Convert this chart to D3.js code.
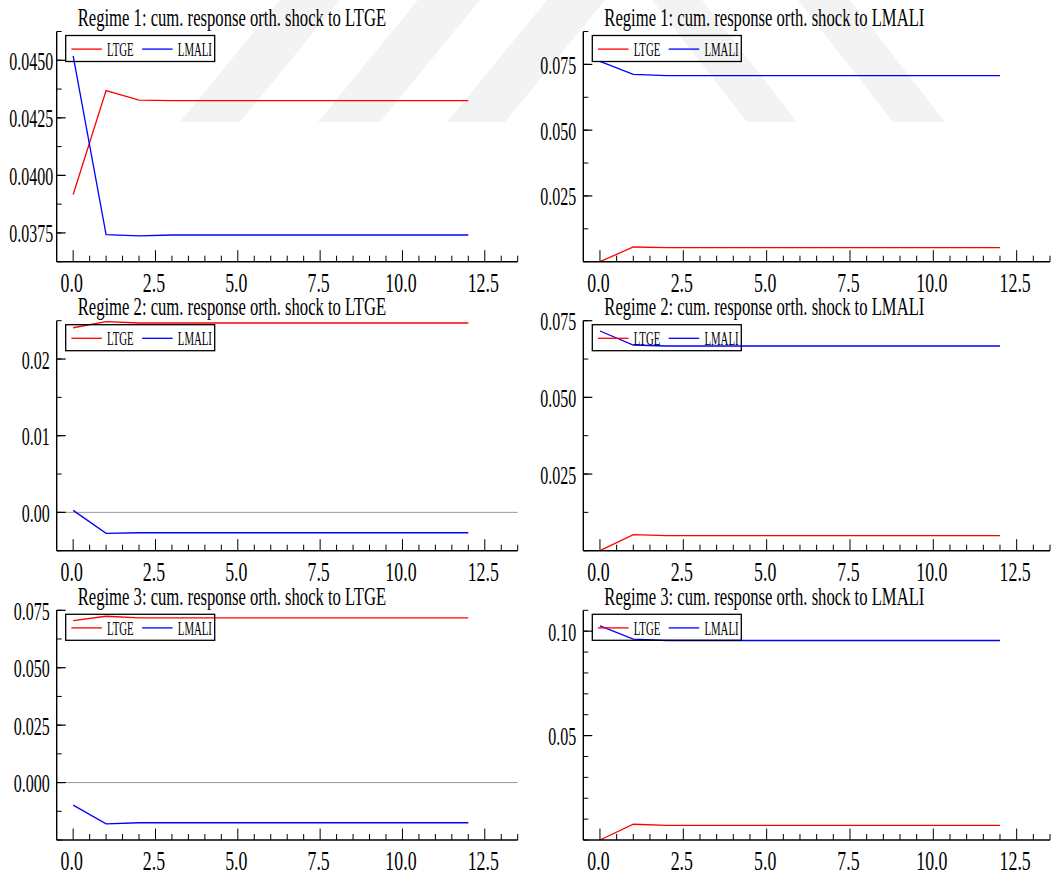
<!DOCTYPE html>
<html>
<head>
<meta charset="utf-8">
<script src="https://cdn.jsdelivr.net/npm/d3@7"></script>
<style>
body{margin:0;background:#fff;}
text{font-family:"Liberation Serif","Times New Roman",serif;fill:#000;}
</style>
</head>
<body>
<div id="graph"></div>
<script>
//data
var horizon = [0,1,2,3,4,5,6,7,8,9,10,11,12];
var seriesNames = ["LTGE","LMALI"];
var seriesColors = ["#ff0000","#0000ff"];

var titles = [
    "Regime 1: cum. response orth. shock to LTGE",
    "Regime 1: cum. response orth. shock to LMALI",
    "Regime 2: cum. response orth. shock to LTGE",
    "Regime 2: cum. response orth. shock to LMALI",
    "Regime 3: cum. response orth. shock to LTGE",
    "Regime 3: cum. response orth. shock to LMALI"
];

var r1_ltge_ltge  = [0.03917,0.04368,0.04327,0.04325,0.04325,0.04325,0.04325,0.04325,0.04325,0.04325,0.04325,0.04325,0.04325];
var r1_ltge_lmali = [0.04519,0.03743,0.03737,0.03741,0.03741,0.03741,0.03741,0.03741,0.03741,0.03741,0.03741,0.03741,0.03741];
var r1_lmali_ltge  = [0.0,0.00559,0.00532,0.00532,0.00532,0.00532,0.00532,0.00532,0.00532,0.00532,0.00532,0.00532,0.00532];
var r1_lmali_lmali = [0.07614,0.0712,0.0707,0.0707,0.0707,0.0707,0.0707,0.0707,0.0707,0.0707,0.0707,0.0707,0.0707];

var r2_ltge_ltge  = [0.02408,0.02487,0.0247,0.0247,0.0247,0.0247,0.0247,0.0247,0.0247,0.0247,0.0247,0.0247,0.0247];
var r2_ltge_lmali = [0.00026,-0.00274,-0.00266,-0.00266,-0.00266,-0.00266,-0.00266,-0.00266,-0.00266,-0.00266,-0.00266,-0.00266,-0.00266];
var r2_lmali_ltge  = [0.0,0.00522,0.00489,0.00489,0.00489,0.00489,0.00489,0.00489,0.00489,0.00489,0.00489,0.00489,0.00489];
var r2_lmali_lmali = [0.07164,0.06708,0.06675,0.06675,0.06675,0.06675,0.06675,0.06675,0.06675,0.06675,0.06675,0.06675,0.06675];

var r3_ltge_ltge  = [0.07052,0.0724,0.0717,0.0717,0.0717,0.0717,0.0717,0.0717,0.0717,0.0717,0.0717,0.0717,0.0717];
var r3_ltge_lmali = [-0.00983,-0.01795,-0.0175,-0.0175,-0.0175,-0.0175,-0.0175,-0.0175,-0.0175,-0.0175,-0.0175,-0.0175,-0.0175];
var r3_lmali_ltge  = [0.0,0.00753,0.00705,0.00705,0.00705,0.00705,0.00705,0.00705,0.00705,0.00705,0.00705,0.00705,0.00705];
var r3_lmali_lmali = [0.10254,0.09617,0.09554,0.09554,0.09554,0.09554,0.09554,0.09554,0.09554,0.09554,0.09554,0.09554,0.09554];

//axis extents and tick labels
var xDomain = [-0.5, 13.5];
var xTicks = [0, 2.5, 5, 7.5, 10, 12.5];
var yDomains = [[0.03625,0.04625],[0,0.0875],[-0.005,0.025],[0,0.075],[-0.025,0.075],[0,0.11]];
var yTicks = [
    [0.0375,0.0400,0.0425,0.0450],
    [0.025,0.050,0.075],
    [0.00,0.01,0.02],
    [0.025,0.050,0.075],
    [0.000,0.025,0.050,0.075],
    [0.05,0.10]
];
var yMinorStep = [0.00125,0.0125,0.005,0.0125,0.0125,0.01];
var yFormats = [".4f",".3f",".2f",".3f",".3f",".2f"];

var panelSeries = [
    [r1_ltge_ltge, r1_ltge_lmali],
    [r1_lmali_ltge, r1_lmali_lmali],
    [r2_ltge_ltge, r2_ltge_lmali],
    [r2_lmali_ltge, r2_lmali_lmali],
    [r3_ltge_ltge, r3_ltge_lmali],
    [r3_lmali_ltge, r3_lmali_lmali]
];

//layout
var cols = [{left:56.7, right:517.7}, {left:583.3, right:1050}];
var rows = [{top:31.5, bottom:261.7}, {top:320.7, bottom:550.7}, {top:610.3, bottom:840}];
var SX = 0.64;

var svg = d3.select("#graph")
    .append("svg")
    .attr("width", 1051)
    .attr("height", 877);

//faint watermark in the background
var wm = svg.append("g").attr("fill", "#f3f3f3");
[[180,240],[318,380],[447,505]].forEach(function(b){
    wm.append("path").attr("d", "M"+b[0]+",122 L"+b[1]+",122 L"+(b[1]+100)+",0 L"+(b[0]+100)+",0 Z");
});
[[747,797],[893,945]].forEach(function(b){
    wm.append("path").attr("d", "M"+b[0]+",122 L"+b[1]+",122 L"+(b[1]-95)+",0 L"+(b[0]-95)+",0 Z");
});

function label(g, x, y, str, size, anchor, sx){
    return g.append("text")
        .attr("transform", "translate(" + x + "," + y + ") scale(" + (sx || SX) + ",1)")
        .attr("text-anchor", anchor)
        .attr("font-size", size)
        .text(str);
}

function drawPanel(p){
    var c = cols[p % 2], r = rows[Math.floor(p / 2)];
    var g = svg.append("g");
    var x = d3.scaleLinear().domain(xDomain).range([c.left, c.right]);
    var y = d3.scaleLinear().domain(yDomains[p]).range([r.bottom, r.top]);

//zero line
    if (yDomains[p][0] < 0) {
        g.append("line")
            .attr("x1", c.left).attr("x2", c.right)
            .attr("y1", y(0)).attr("y2", y(0))
            .attr("stroke", "#999").attr("stroke-width", 1);
    }

//series
    var line = d3.line()
        .x(function(d, i){ return x(horizon[i]); })
        .y(function(d){ return y(d); });
    panelSeries[p].forEach(function(s, k){
        g.append("path")
            .attr("d", line(s))
            .attr("fill", "none")
            .attr("stroke", seriesColors[k])
            .attr("stroke-width", 1.3);
    });

//axes
    g.append("line").attr("x1", c.left).attr("x2", c.right)
        .attr("y1", r.bottom).attr("y2", r.bottom)
        .attr("stroke", "#000").attr("stroke-width", 1.6);
    g.append("line").attr("x1", c.left).attr("x2", c.left)
        .attr("y1", r.top).attr("y2", r.bottom)
        .attr("stroke", "#000").attr("stroke-width", 1.4);

    var xMinor = d3.range(0, 13.51, 0.5);
    g.selectAll(".xt").data(xMinor).enter().append("line")
        .attr("x1", function(d){ return x(d); }).attr("x2", function(d){ return x(d); })
        .attr("y1", r.bottom)
        .attr("y2", function(d){ return xTicks.indexOf(d) >= 0 ? r.bottom - 11.5 : r.bottom - 6; })
        .attr("stroke", "#000").attr("stroke-width", 1);
    xTicks.forEach(function(t){
        label(g, x(t) - 1.5, r.bottom + 30, d3.format(".1f")(t), 27, "middle", 0.66);
    });

    var d0 = yDomains[p][0], step = yMinorStep[p];
    var yMinor = d3.range(Math.ceil(d0 / step - 1e-6) * step, yDomains[p][1] + step / 2, step);
    g.selectAll(".yt").data(yMinor).enter().append("line")
        .attr("x1", c.left).attr("x2", c.left + 5)
        .attr("y1", function(d){ return y(d); }).attr("y2", function(d){ return y(d); })
        .attr("stroke", "#000").attr("stroke-width", 1);
    var gap = p === 0 ? 3.5 : 7;
    yTicks[p].forEach(function(t){
        g.append("line").attr("x1", c.left).attr("x2", c.left + 9)
            .attr("y1", y(t)).attr("y2", y(t))
            .attr("stroke", "#000").attr("stroke-width", 1.2);
        label(g, c.left - gap, y(t) + 9.5, d3.format(yFormats[p])(t), 25, "end");
    });

//legend
    var lx = c.left + 9, ly = r.top + 4;
    g.append("rect").attr("x", lx).attr("y", ly)
        .attr("width", 149).attr("height", 26)
        .attr("fill", "none").attr("stroke", "#000").attr("stroke-width", 1.3);
    var offs = [5.7, 76.4];
    seriesNames.forEach(function(n, k){
        g.append("line")
            .attr("x1", lx + offs[k]).attr("x2", lx + offs[k] + 30.5)
            .attr("y1", ly + 13.6).attr("y2", ly + 13.6)
            .attr("stroke", seriesColors[k]).attr("stroke-width", 1.3);
        label(g, lx + offs[k] + 35.7, ly + 20.5, n, 18, "start", 0.6);
    });

//title
    label(g, c.left + 21, r.top - 5.5, titles[p], 26, "start");
}

for (var p = 0; p < 6; p++) drawPanel(p);
</script>
</body>
</html>
